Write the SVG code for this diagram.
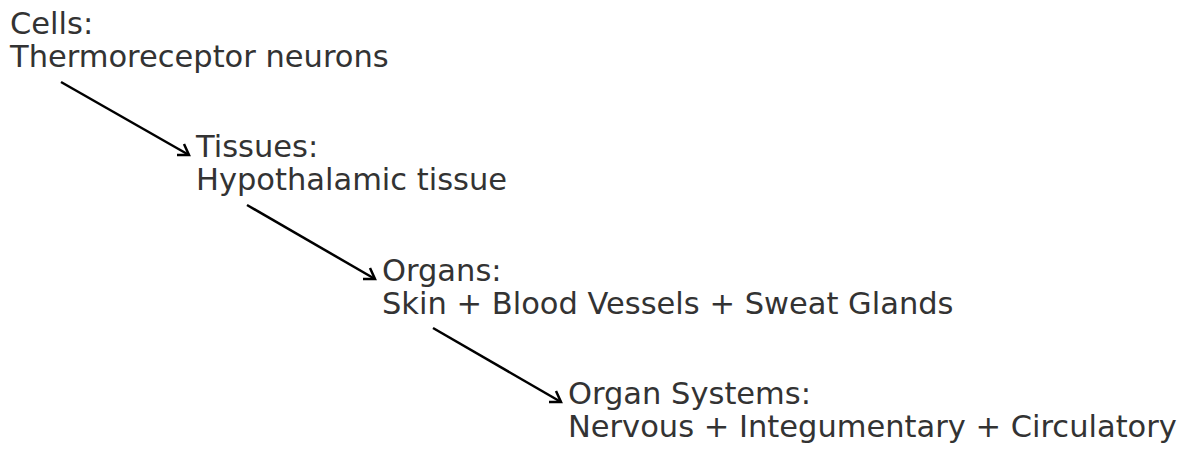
<svg xmlns="http://www.w3.org/2000/svg" width="1193" height="471" viewBox="0 0 1193 471">
<style>
text{font-family:"DejaVu Sans",sans-serif;font-size:30.5px;fill:#333333}
.c line{stroke:#000;stroke-width:2.5;fill:none}
.c path{stroke:#000;stroke-width:2.5;fill:none;stroke-linecap:butt;stroke-linejoin:miter}
</style>
<rect width="1193" height="471" fill="#fff"/>
<g id="cells"><text x="10" y="34">Cells:</text><text x="10" y="67">Thermoreceptor neurons</text></g>
<g id="tissues"><text x="196" y="157">Tissues:</text><text x="196" y="190">Hypothalamic tissue</text></g>
<g id="organs"><text x="382" y="281">Organs:</text><text x="382" y="314">Skin + Blood Vessels + Sweat Glands</text></g>
<g id="systems"><text x="568" y="404">Organ Systems:</text><text x="568" y="437">Nervous + Integumentary + Circulatory</text></g>
<g class="c" id="connectors">
<line x1="61" y1="82" x2="189" y2="155"/><path d="M177,155 L189,155 L184,144"/>
<line x1="247" y1="205" x2="375" y2="279"/><path d="M363,279 L375,279 L370,268"/>
<line x1="433" y1="328" x2="561" y2="402"/><path d="M549,402 L561,402 L556,391"/>
</g>
</svg>
